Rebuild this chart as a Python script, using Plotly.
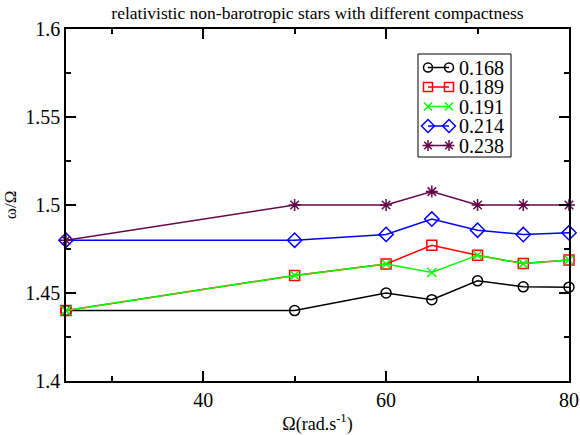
import plotly.graph_objects as go

omega = [25, 50, 60, 65, 70, 75, 80]

c168 = [1.440, 1.440, 1.450, 1.4462, 1.4569, 1.4535, 1.4533]
c189 = [1.440, 1.460, 1.4665, 1.4771, 1.4715, 1.4667, 1.4687]
c191 = [1.440, 1.460, 1.4665, 1.4617, 1.4715, 1.4667, 1.4687]
c214 = [1.480, 1.480, 1.4833, 1.4920, 1.4857, 1.4832, 1.4842]
c238 = [1.480, 1.500, 1.500, 1.5076, 1.500, 1.500, 1.500]

names = ['0.168', '0.189', '0.191', '0.214', '0.238']

x_ticks = [40, 60, 80]
x_ticklabels = ['40', '60', '80']
y_ticks = [1.4, 1.45, 1.5, 1.55, 1.6]
y_ticklabels = ['1.4', '1.45', '1.5', '1.55', '1.6']

serif = 'Times New Roman, Liberation Serif, serif'

styles = [
    dict(color='black', symbol='circle-open', size=10),
    dict(color='#ff0000', symbol='square-open', size=10),
    dict(color='#00ff00', symbol='x-thin-open', size=9),
    dict(color='#0000ff', symbol='diamond-open', size=11),
    dict(color='#670748', symbol='asterisk-open', size=10),
]

# plot area in pixels (used for the hand-drawn grace-style legend)
PL, PR, PT, PB = 66, 569, 29, 381
leg_box = (418, 511, 54, 157)
leg_rows = [67.5, 87, 106.5, 126, 145.5]
leg_sym = (428, 449)
leg_text_x = 457

fig = go.Figure()
for name, ys, st in zip(names, [c168, c189, c191, c214, c238], styles):
    fig.add_trace(go.Scatter(
        x=omega, y=ys, name=name, mode='lines+markers', showlegend=False,
        line=dict(color=st['color'], width=1.5),
        marker=dict(symbol=st['symbol'], size=st['size'], color=st['color'],
                    line=dict(color=st['color'], width=1.5)),
        cliponaxis=False,
    ))

# legend box + samples on a pixel overlay axis
fig.add_shape(type='rect', xref='x2', yref='y2',
              x0=leg_box[0], x1=leg_box[1], y0=leg_box[2], y1=leg_box[3],
              line=dict(color='black', width=1), fillcolor='white', layer='below')
for name, row, st in zip(names, leg_rows, styles):
    fig.add_trace(go.Scatter(
        x=list(leg_sym), y=[row, row], xaxis='x2', yaxis='y2',
        mode='lines+markers', showlegend=False, hoverinfo='skip',
        line=dict(color=st['color'], width=1.5),
        marker=dict(symbol=st['symbol'], size=st['size'] - 1, color=st['color'],
                    line=dict(color=st['color'], width=1.5)),
        cliponaxis=False,
    ))
    fig.add_annotation(x=leg_text_x, y=row, xref='x2', yref='y2', text=name,
                       showarrow=False, xanchor='left', yanchor='middle',
                       font=dict(family=serif, size=20, color='black'))

axis_common = dict(
    showgrid=False, zeroline=False, automargin=False,
    showline=True, linecolor='black', linewidth=1.5, mirror='allticks',
    ticks='inside', ticklen=10, tickwidth=1.5, tickcolor='black',
    tickfont=dict(family=serif, size=20, color='black'),
)

fig.update_layout(
    width=580, height=435, autosize=False,
    font=dict(family=serif, size=20, color='black'),
    plot_bgcolor='white', paper_bgcolor='white',
    margin=dict(l=PL, r=580 - PR, t=PT, b=435 - PB),
    title=dict(text='relativistic non-barotropic stars with different compactness',
               font=dict(family=serif, size=17.5, color='black'),
               x=(PL + PR) / 2 / 580, xanchor='center',
               yref='container', y=1 - 13 / 435, yanchor='middle'),
    xaxis=dict(range=[25, 80], tickvals=x_ticks, ticktext=x_ticklabels,
               minor=dict(dtick=10, tick0=0, ticks='inside', ticklen=5,
                          tickwidth=1.5, tickcolor='black'),
               title=dict(text='Ω(rad.s<sup>-1</sup>)', standoff=8,
                          font=dict(family=serif, size=18, color='black')),
               **axis_common),
    yaxis=dict(range=[1.4, 1.6], tickvals=y_ticks, ticktext=y_ticklabels,
               minor=dict(dtick=0.025, tick0=1.4, ticks='inside', ticklen=5,
                          tickwidth=1.5, tickcolor='black'),
               title=dict(text='ω/Ω', standoff=4,
                          font=dict(family=serif, size=17, color='black')),
               **axis_common),
    xaxis2=dict(overlaying='x', range=[PL, PR], visible=False, fixedrange=True),
    yaxis2=dict(overlaying='y', range=[PB, PT], visible=False, fixedrange=True),
    showlegend=False,
)

# the page body has a default 8px margin; drop it so the figure sits at 0,0
fig.write_html('out.html', config={'displayModeBar': False},
               post_script="document.body.style.margin='0';")
